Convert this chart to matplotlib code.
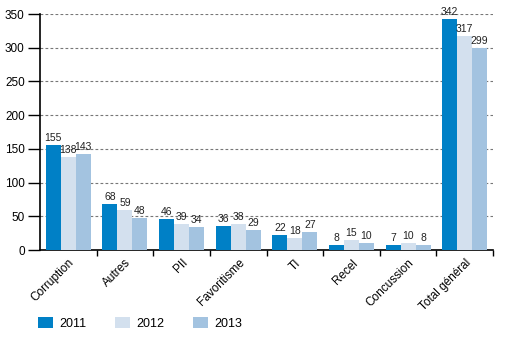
import numpy as np
import matplotlib
matplotlib.use('Agg')
import matplotlib.pyplot as plt
from matplotlib.patches import Patch

plt.rcParams['font.family'] = ['Liberation Sans Narrow', 'Liberation Sans', 'DejaVu Sans']

categories = ['Corruption', 'Autres', 'PII', 'Favoritisme', 'TI', 'Recel', 'Concussion', 'Total général']
years = ['2011', '2012', '2013']
v2011 = [155, 68, 46, 36, 22, 8, 7, 342]
v2012 = [138, 59, 39, 38, 18, 15, 10, 317]
v2013 = [143, 48, 34, 29, 27, 10, 8, 299]
colors = ['#0080c6', '#d3e0ee', '#a3c3e0']

fig = plt.figure(figsize=(5.28, 3.42), dpi=100)
ax = fig.add_axes([0.0758, 0.269, 0.858, 0.69])

x = np.arange(len(categories))
w = 0.265
for i, vals in enumerate([v2011, v2012, v2013]):
    pos = x + (i - 1) * w
    ax.bar(pos, vals, width=w, color=colors[i], zorder=3)
    for p, v in zip(pos, vals):
        ax.text(p, v + 3, str(v), ha='center', va='bottom', fontsize=7.5, color='#222222', zorder=4)

ax.set_xlim(-0.5, len(categories) - 0.5)
ax.set_ylim(0, 350)
ax.set_yticks(np.arange(0, 351, 50))
ax.tick_params(axis='y', length=9, width=1, labelsize=8.5, pad=2)
ax.set_xticks(x)
ax.set_xticklabels(categories, rotation=45, ha='right', rotation_mode='anchor', fontsize=8.5)
ax.tick_params(axis='x', which='major', length=0, pad=5)
ax.set_xticks(np.arange(0.5, len(categories)), minor=True)
ax.tick_params(axis='x', which='minor', length=4, width=1)

for yv in range(50, 351, 50):
    ax.axhline(yv, color='#777777', linestyle=(0, (2.5, 2)), linewidth=0.8, zorder=1)

for s in ['top', 'right']:
    ax.spines[s].set_visible(False)
ax.spines['left'].set_linewidth(1.2)
ax.spines['bottom'].set_linewidth(1.2)
ax.spines['bottom'].set_bounds(-0.5, len(categories) - 0.5)

handles = [Patch(facecolor=c, edgecolor='none') for c in colors]
fig.legend(handles, years, loc='lower left', bbox_to_anchor=(0.05, 0.003), ncol=3, frameon=False,
           fontsize=9, handlelength=1.25, handleheight=0.9, columnspacing=2.3, handletextpad=0.45)

fig.savefig('out.png', dpi=100)
